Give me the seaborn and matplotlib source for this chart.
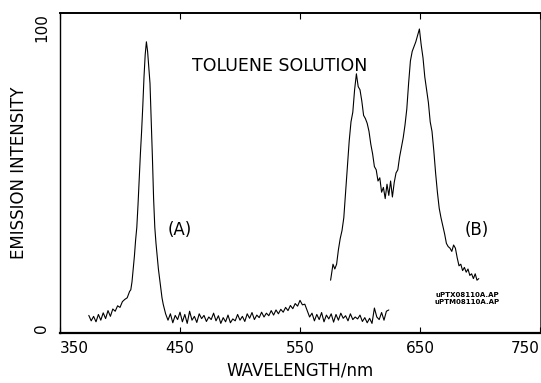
import numpy as np
import pandas as pd
import matplotlib
matplotlib.use("Agg")
import matplotlib.pyplot as plt
import seaborn as sns

# trace (A) - toluene solution emission
wl_a = [374, 376, 378, 380, 382, 384, 386, 388, 390, 392, 394, 396, 398, 400,
        402, 404, 406, 408, 409, 410, 411, 412, 413, 414, 415, 416, 417, 418,
        419, 420, 421, 422, 423, 424, 425, 426, 427, 428, 429, 430, 431, 432,
        433, 434, 435, 436, 437, 438,
        440, 442, 444, 446, 448, 450, 452, 454, 456, 458, 460, 462, 464, 466,
        468, 470, 472, 474, 476, 478, 480, 482, 484, 486, 488, 490, 492, 494,
        496, 498, 500, 502, 504, 506, 508, 510, 512, 514, 516, 518, 520, 522,
        524, 526, 528, 530, 532, 534, 536, 538, 540, 542, 544, 546, 548, 550,
        552, 554, 556, 558, 560, 562, 564, 566, 568, 570, 572, 574, 576, 578,
        580, 582, 584, 586, 588, 590, 592, 594, 596, 598, 600, 602, 604, 606,
        608, 610, 612, 614, 616, 618, 620, 622, 624]
int_a = [5.5, 3.8, 5.2, 3.5, 5.8, 4.0, 6.3, 4.5, 7.0, 5.2, 7.5, 6.8, 8.5, 8.0,
         9.8, 10.5, 11.0, 13.0, 13.5, 16, 20, 24, 29, 33, 40, 48, 56, 63,
         71, 80, 87, 91, 88, 83, 78, 67, 55, 42, 33, 28, 24, 20,
         17, 14, 11, 9, 7.5, 6.0,
         4.0, 6.0, 3.2, 5.5, 4.2, 6.5, 3.5, 5.8, 3.0, 6.8, 4.0, 5.2, 3.3, 6.0,
         4.5, 5.5, 3.6, 5.0, 4.2, 6.2, 3.8, 5.4, 3.0, 4.8, 3.5, 5.6, 3.2, 4.4,
         3.8, 5.8, 4.0, 5.2, 3.6, 6.0, 4.6, 6.4, 4.2, 5.6, 4.8, 6.5, 5.0, 6.2,
         5.4, 7.0, 5.6, 7.2, 6.0, 7.4, 6.5, 8.0, 7.0, 8.6, 7.6, 9.2, 8.4, 10.2,
         8.8, 9.0, 7.0, 5.0, 6.2, 3.8, 5.8, 4.2, 6.4, 3.5, 5.6, 4.4, 6.0, 3.4,
         5.8, 4.0, 6.2, 4.6, 5.4, 3.8, 6.0, 4.2, 5.0, 4.4, 5.6, 3.6, 4.8, 3.2,
         4.6, 3.0, 7.8, 5.0, 4.2, 6.4, 4.0, 6.8, 7.2]

# trace (B)
wl_b = [575.5, 577.5, 579, 580.5, 582, 583.5, 585, 586.5, 588, 589.5, 591,
        592.5, 594, 595.5, 597, 598.5, 600, 601.5, 603, 604.5, 606, 607.5,
        609, 610.5, 612, 613.5, 615, 616.5, 618, 619.5, 621, 622.5, 624,
        625.5, 627, 628.5, 630, 631.5, 633, 634.5, 636, 637.5, 639, 640.5,
        642, 643.5, 645, 646.5, 648, 649.5, 651, 652.5, 654, 655.5, 657,
        658.5, 660, 661.5, 663, 664.5, 666, 667.5, 669, 670.5, 672, 673.5,
        675, 676.5, 678, 679.5, 681, 682.5, 684, 685.5, 687, 688.5, 690,
        691.5, 693, 694.5, 696, 697.5, 699]
int_b = [16.5, 21.5, 20.0, 21.5, 26.0, 29.5, 32.0, 36.0, 44.0, 52.0, 60.0,
         66.0, 69.0, 76.0, 81.0, 77.0, 76.0, 72.5, 68.0, 67.0, 65.5, 63.0,
         59.0, 56.0, 52.0, 51.0, 47.5, 48.5, 44.0, 45.5, 42.0, 46.5, 43.0,
         47.5, 42.5, 47.0, 50.0, 51.0, 55.0, 58.0, 61.0, 65.0, 70.0, 78.0,
         85.0, 88.0, 89.5, 91.0, 93.0, 95.0, 90.0, 86.0, 80.0, 76.0, 72.0,
         66.0, 63.0, 57.0, 50.0, 44.0, 39.0, 36.0, 33.5, 31.0, 28.0, 27.0,
         26.5, 25.5, 27.5, 26.5, 23.5, 21.0, 21.5, 19.5, 20.5, 19.0, 20.0,
         18.0, 18.5, 17.0, 18.5, 16.5, 17.0]

x_ticks = [350, 450, 550, 650, 750]
y_ticks = [0, 100]

df = pd.concat([
    pd.DataFrame({"wl": wl_a, "intensity": int_a, "trace": "A"}),
    pd.DataFrame({"wl": wl_b, "intensity": int_b, "trace": "B"}),
], ignore_index=True)

sns.set_style("ticks")
plt.rcParams["font.family"] = ["DejaVu Sans"]
plt.rcParams["text.color"] = "black"
plt.rcParams["axes.labelcolor"] = "black"
plt.rcParams["xtick.color"] = "black"
plt.rcParams["ytick.color"] = "black"

fig = plt.figure(figsize=(5.41, 3.83), dpi=100)
ax = fig.add_axes([60 / 541, 50 / 383, 480 / 541, 320 / 383])

sns.lineplot(data=df, x="wl", y="intensity", units="trace", estimator=None,
             sort=False, color="black", linewidth=0.8, ax=ax)

ax.set_xlim(350, 750)
ax.set_ylim(0, 100)
ax.set_xticks(x_ticks)
ax.set_yticks(y_ticks)
ax.tick_params(axis="x", direction="in", length=4, top=True, labelsize=11,
               pad=6, width=0.8, colors="black")
ax.tick_params(axis="y", length=0, labelsize=11, pad=8, colors="black")

xlabs = ax.get_xticklabels()
xlabs[0].set_ha("left")
xlabs[-1].set_ha("right")
ylabs = ax.get_yticklabels()
for lab in ylabs:
    lab.set_rotation(90)
ylabs[0].set_va("bottom")
ylabs[1].set_va("top")

for side in ["left", "right", "top", "bottom"]:
    ax.spines[side].set_color("black")
    ax.spines[side].set_linewidth(1.0)
ax.spines["bottom"].set_linewidth(1.6)
ax.spines["top"].set_linewidth(1.4)
ax.spines["right"].set_linewidth(0.5)

ax.set_xlabel("WAVELENGTH/nm", fontsize=12, labelpad=4, color="black")
ax.set_ylabel("EMISSION INTENSITY", fontsize=12, labelpad=4, color="black")

ax.text(0.458, 0.834, "TOLUENE SOLUTION", transform=ax.transAxes,
        fontsize=12.5, ha="center", va="center", color="black")
ax.text(0.25, 0.322, "(A)", transform=ax.transAxes, fontsize=12,
        ha="center", va="center", color="black")
ax.text(0.869, 0.322, "(B)", transform=ax.transAxes, fontsize=12,
        ha="center", va="center", color="black")
ax.text(0.848, 0.108, "uPTX08110A.AP\nuPTM08110A.AP", transform=ax.transAxes,
        fontsize=5, fontweight="bold", ha="center", va="center",
        linespacing=1.3, color="black")

fig.savefig("out.png", dpi=100)
